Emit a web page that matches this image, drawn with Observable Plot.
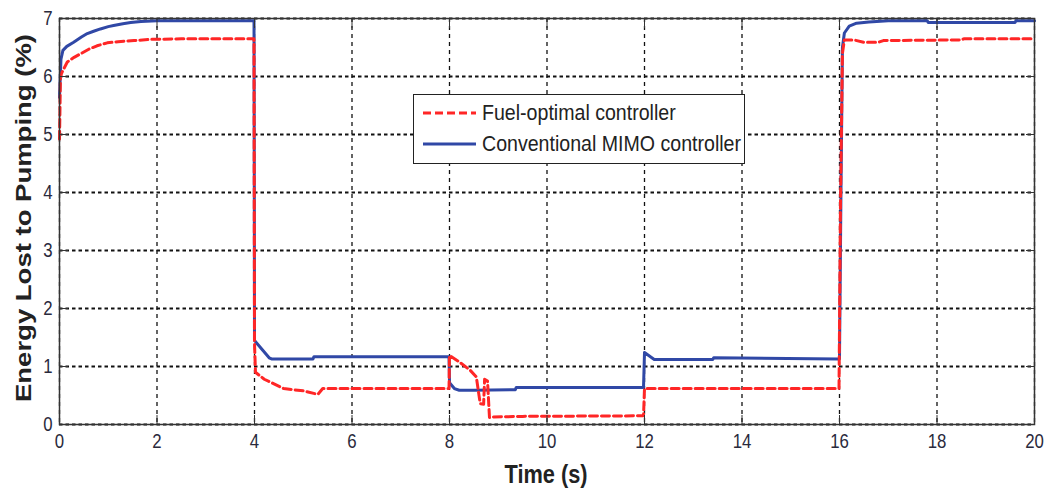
<!DOCTYPE html>
<html>
<head>
<meta charset="utf-8">
<script src="https://cdn.jsdelivr.net/npm/d3@7"></script>
<script src="https://cdn.jsdelivr.net/npm/@observablehq/plot@0.6"></script>
<style>
  body { margin: 0; background: #fff; }
  #wrap { position: relative; width: 1046px; height: 489px; }
  .legend {
    position: absolute; left: 413px; top: 94px; width: 332px; height: 70px;
    box-sizing: border-box; border: 1.5px solid #222; background: #fff;
    font-family: "Liberation Sans", Arial, sans-serif;
    font-size: 22px; color: #222;
  }
  .legend .row { position: absolute; left: 0; height: 30px; width: 100%; }
  .legend svg { position: absolute; left: 9px; top: 0; }
  .legend span { position: absolute; left: 68px; top: 2px; white-space: nowrap;
    transform: scaleX(0.89); transform-origin: 0 50%; }
</style>
</head>
<body>
<div id="wrap"></div>
<script>
// ---- data ----
const xTicks = [0, 2, 4, 6, 8, 10, 12, 14, 16, 18, 20];
const yTicks = [0, 1, 2, 3, 4, 5, 6, 7];
const seriesNames = ["Fuel-optimal controller", "Conventional MIMO controller"];

const fuelTime = [0, 0.02, 0.05, 0.16, 0.3, 0.43, 0.6, 0.77, 0.98, 1.2, 1.53, 1.87, 2.5, 3.99,
  4.0, 4.02, 4.2, 4.4, 4.6, 5.0, 5.3, 5.4, 7.99,
  8.0, 8.2, 8.43, 8.55, 8.63, 8.7, 8.72, 8.78, 8.82, 8.9, 9.5, 11.98,
  12.0, 15.99, 16.02, 16.06, 16.1, 16.3, 16.5, 16.8, 16.9, 18.5, 18.55, 20];
const fuelValue = [4.92, 6.0, 6.07, 6.25, 6.33, 6.39, 6.47, 6.53, 6.58, 6.6, 6.62, 6.64, 6.65, 6.65,
  1.4, 0.9, 0.78, 0.7, 0.62, 0.58, 0.52, 0.62, 0.62,
  1.19, 1.08, 0.93, 0.82, 0.36, 0.35, 0.78, 0.75, 0.12, 0.13, 0.14, 0.15,
  0.62, 0.62, 3.8, 6.4, 6.63, 6.63, 6.59, 6.59, 6.62, 6.63, 6.65, 6.65];

const mimoTime = [0, 0.03, 0.07, 0.15, 0.29, 0.45, 0.57, 0.7, 0.84, 1.0, 1.11, 1.3, 1.46, 1.67, 2.0, 3.99,
  4.0, 4.1, 4.2, 4.3, 4.35, 5.2, 5.22, 7.99,
  8.0, 8.1, 8.2, 8.5, 9.35, 9.37, 11.98,
  12.0, 12.1, 12.2, 13.4, 13.42, 15.98,
  16.0, 16.03, 16.06, 16.1, 16.2, 16.35, 16.6, 17.0, 17.8, 17.82, 19.6, 19.62, 20];
const mimoValue = [5.64, 6.3, 6.45, 6.52, 6.59, 6.68, 6.74, 6.78, 6.82, 6.86, 6.88, 6.91, 6.93, 6.95, 6.96, 6.96,
  1.45, 1.35, 1.25, 1.15, 1.13, 1.13, 1.17, 1.17,
  0.72, 0.62, 0.59, 0.59, 0.6, 0.64, 0.64,
  1.24, 1.18, 1.12, 1.12, 1.15, 1.13,
  1.13, 4.0, 6.5, 6.75, 6.87, 6.92, 6.94, 6.96, 6.96, 6.93, 6.93, 6.96, 6.96];

const fuel = fuelTime.map((t, i) => ({t, v: fuelValue[i]}));
const mimo = mimoTime.map((t, i) => ({t, v: mimoValue[i]}));

const RED = "#ff2626";
const BLUE = "#3048a6";
const font = '"Liberation Sans", Arial, sans-serif';

const chart = Plot.plot({
  width: 1046,
  height: 489,
  marginLeft: 59,
  marginRight: 12,
  marginTop: 18,
  marginBottom: 65,
  x: {domain: [0, 20], ticks: xTicks},
  y: {domain: [0, 7], ticks: yTicks},
  style: {fontFamily: font, fontSize: "21px", color: "#2a2a3c", background: "white", overflow: "visible"},
  marks: [
    Plot.gridX(xTicks, {stroke: "#111", strokeOpacity: 1, strokeWidth: 1.3, strokeDasharray: "4,4"}),
    Plot.gridY(yTicks, {stroke: "#111", strokeOpacity: 1, strokeWidth: 1.8, strokeDasharray: "3.5,3"}),
    Plot.line(mimo, {x: "t", y: "v", stroke: BLUE, strokeWidth: 3}),
    Plot.line(fuel, {x: "t", y: "v", stroke: RED, strokeWidth: 3, strokeDasharray: "8,4"}),
    Plot.frame({stroke: "#333", strokeWidth: 1.5}),
    Plot.axisX(xTicks, {anchor: "bottom", tickSize: 0, tickPadding: 9, tickFormat: "d", label: null, className: "tl"}),
    Plot.axisX(xTicks, {anchor: "bottom", tickSize: -9, tickFormat: () => "", label: null, stroke: "#333"}),
    Plot.axisX(xTicks, {anchor: "top", tickSize: -9, tickFormat: () => "", label: null, stroke: "#333"}),
    Plot.axisY(yTicks, {anchor: "left", tickSize: 0, tickPadding: 7, tickFormat: "d", label: null, className: "tl"}),
    Plot.axisY(yTicks, {anchor: "left", tickSize: -9, tickFormat: () => "", label: null, stroke: "#333"}),
    Plot.axisY(yTicks, {anchor: "right", tickSize: -9, tickFormat: () => "", label: null, stroke: "#333"})
  ]
});

const svg = d3.select(chart);
// condense the tick labels horizontally like the reference
svg.selectAll("text").each(function () {
  const t = d3.select(this);
  const tr = t.attr("transform");
  if (tr && this.textContent !== "") t.attr("transform", tr + " scale(0.8,1)");
});
svg.append("text")
  .attr("transform", "translate(23,218) rotate(-90) scale(1,0.8)")
  .attr("text-anchor", "middle")
  .attr("dy", "0.35em")
  .attr("font-family", font)
  .attr("font-weight", "bold")
  .attr("font-size", 27.5)
  .attr("fill", "#222")
  .text("Energy Lost to Pumping (%)");
svg.append("text")
  .attr("transform", "translate(546,483) scale(0.87,1)")
  .attr("text-anchor", "middle")
  .attr("font-family", font)
  .attr("font-weight", "bold")
  .attr("font-size", 25)
  .attr("fill", "#222")
  .text("Time (s)");

const wrap = document.getElementById("wrap");
wrap.appendChild(chart);

// legend
const legend = document.createElement("div");
legend.className = "legend";
const styles = [{color: RED, dash: "8,4"}, {color: BLUE, dash: null}];
seriesNames.forEach((name, i) => {
  const row = document.createElement("div");
  row.className = "row";
  row.style.top = (i === 0 ? 3 : 34) + "px";
  const s = d3.create("svg").attr("width", 56).attr("height", 30);
  s.append("line").attr("x1", 0).attr("x2", 53).attr("y1", 15).attr("y2", 15)
    .attr("stroke", styles[i].color).attr("stroke-width", 3)
    .attr("stroke-dasharray", styles[i].dash);
  row.appendChild(s.node());
  const sp = document.createElement("span");
  sp.textContent = name;
  row.appendChild(sp);
  legend.appendChild(row);
});
wrap.appendChild(legend);
</script>
</body>
</html>
